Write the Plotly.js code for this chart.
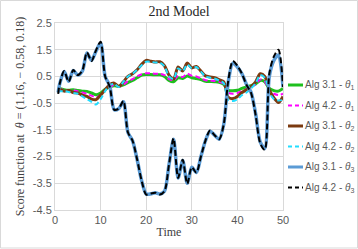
<!DOCTYPE html>
<html><head><meta charset="utf-8">
<script src="https://cdn.plot.ly/plotly-3.0.1.min.js"></script>
<style>html,body{margin:0;padding:0;background:#fff}#chart{width:358px;height:249px}</style>
</head><body><div id="chart"></div>
<script>
const time = [0.7,1,2,3,4,5,6,7,8,9,10,11,12,13,14,15,16,17,18,19,20,21,22,23,24,25,26,27,28,29,30,31,32,33,34,35,36,37,38,39,40,41,42,43,44,45,46,47,48,49,50];

const alg31_theta1 = [0.07,0.05,0.0,-0.02,0.0,-0.03,-0.05,-0.06,-0.12,-0.19,-0.12,0.02,0.1,0.15,0.13,0.18,0.27,0.35,0.45,0.55,0.57,0.57,0.56,0.56,0.5,0.35,0.3,0.45,0.42,0.52,0.45,0.42,0.38,0.32,0.31,0.3,0.28,0.2,-0.02,-0.04,-0.02,0.05,0.1,0.15,0.22,0.35,0.3,0.05,-0.03,-0.05,0.05];
const alg42_theta1 = [0.0,0.02,0.0,-0.05,-0.02,-0.06,-0.1,-0.15,-0.22,-0.28,-0.2,0.0,0.1,0.18,0.12,0.2,0.32,0.4,0.5,0.58,0.62,0.62,0.6,0.6,0.55,0.4,0.35,0.52,0.48,0.6,0.52,0.5,0.42,0.36,0.34,0.33,0.3,0.22,-0.1,-0.15,-0.12,-0.05,0.02,0.12,0.2,0.38,0.32,-0.05,-0.15,-0.2,-0.15];
const alg31_theta2 = [0.0,0.02,-0.05,-0.03,-0.1,-0.12,-0.2,-0.25,-0.35,-0.37,-0.2,0.0,0.2,0.25,0.12,0.3,0.5,0.6,0.75,0.95,1.1,1.07,1.04,1.05,0.9,0.55,0.4,0.85,0.7,1.0,0.82,0.87,0.7,0.52,0.48,0.45,0.38,0.3,-0.28,-0.33,-0.25,-0.1,0.0,0.12,0.3,0.6,0.5,0.0,-0.3,-0.48,-0.25];
const alg42_theta2 = [0.0,-0.05,-0.05,-0.08,-0.12,-0.15,-0.25,-0.35,-0.45,-0.55,-0.35,-0.05,0.18,0.22,0.1,0.3,0.5,0.6,0.75,0.92,1.05,1.05,1.02,1.02,0.88,0.5,0.4,0.8,0.7,0.95,0.8,0.85,0.68,0.5,0.45,0.42,0.35,0.25,-0.38,-0.42,-0.35,-0.2,-0.1,0.05,0.25,0.55,0.45,-0.1,-0.35,-0.4,-0.38];
const alg31_theta3 = [-0.1,0.2,0.68,0.32,0.72,0.55,0.7,1.38,1.1,1.45,1.75,0.5,0.15,-0.75,-0.7,-0.45,-1.6,-1.9,-2.6,-3.4,-3.9,-3.9,-3.85,-3.9,-3.8,-2.8,-1.85,-3.3,-2.65,-3.5,-2.9,-3.1,-2.5,-1.9,-1.55,-1.7,-1.85,-1.3,0.3,1.0,0.85,0.6,0.2,-0.1,-0.9,-1.95,-2.2,0.5,1.1,1.3,0.1];
const alg42_theta3 = [-0.15,0.2,0.7,0.3,0.74,0.55,0.72,1.4,1.08,1.48,1.8,0.5,0.12,-0.75,-0.7,-0.42,-1.6,-1.9,-2.6,-3.4,-3.92,-3.88,-3.85,-3.92,-3.8,-2.8,-1.82,-3.3,-2.62,-3.52,-2.9,-3.1,-2.5,-1.9,-1.52,-1.7,-1.85,-1.3,0.35,1.08,0.9,0.6,0.18,-0.12,-0.95,-2.0,-2.25,0.6,1.25,1.5,0.1];

const seriesNames = ['Alg 3.1 - <i>θ</i><sub>1</sub>','Alg 4.2 - <i>θ</i><sub>1</sub>','Alg 3.1 - <i>θ</i><sub>2</sub>','Alg 4.2 - <i>θ</i><sub>2</sub>','Alg 3.1 - <i>θ</i><sub>3</sub>','Alg 4.2 - <i>θ</i><sub>3</sub>'];
const seriesValues = [alg31_theta1, alg42_theta1, alg31_theta2, alg42_theta2, alg31_theta3, alg42_theta3];
const colors = ['#1ec01e','#ff00ff','#7b3a10','#22ddff','#5b9bd5','#000000'];
const widths = [3,2,3,2,3.5,2];
const dashes = ['solid','5px,3px','solid','5px,3px','solid','6px,3px'];

const yTicks = [2.5,1.5,0.5,-0.5,-1.5,-2.5,-3.5,-4.5];
const xTicks = [0,10,20,30,40,50];

const traces = seriesValues.map((v,i)=>({
  x: time, y: v, type:'scatter', mode:'lines', name: seriesNames[i],
  line:{color:colors[i], width:widths[i], dash:dashes[i], shape:'spline', smoothing:0.8},
  showlegend:false, hoverinfo:'skip'
}));

// legend drawn beside the plot (sample line + label per series)
const L = 55, W = 228, T = 23, H = 187;
const px2x = p => (p - L) / W;
const py2y = p => (T + H - p) / H;
const rowY = [85,105.5,126,146.5,167,187.5];
const shapes = [{type:'rect', xref:'paper', yref:'paper', x0:px2x(0.5), x1:px2x(357.5), y0:py2y(248), y1:py2y(0.5), line:{color:'#d9d9d9', width:1}}];
const annotations = [];
seriesNames.forEach((n,i)=>{
  shapes.push({type:'line', xref:'paper', yref:'paper', x0:px2x(288), x1:px2x(303), y0:py2y(rowY[i]), y1:py2y(rowY[i]),
    line:{color:colors[i], width: i%2===0 ? 3 : 2, dash: i%2===0 ? 'solid' : '4px,3px'}});
  annotations.push({xref:'paper', yref:'paper', x:px2x(303), y:py2y(rowY[i]), xanchor:'left', yanchor:'middle', showarrow:false,
    text:n, font:{family:'Liberation Sans, Arial, sans-serif', size:10, color:'#595959'}});
});

const layout = {
  width:358, height:249,
  margin:{l:55, r:75, t:23, b:39, pad:0},
  paper_bgcolor:'#ffffff', plot_bgcolor:'#ffffff',
  title:{text:'2nd Model', xref:'container', x:0.5, xanchor:'center', y:0.955, yanchor:'middle',
    font:{family:'Liberation Serif, DejaVu Serif, serif', size:14, color:'#262626'}},
  xaxis:{range:[0,50], tickvals:xTicks, ticktext:xTicks.map(String), showgrid:true, gridcolor:'#d9d9d9', gridwidth:1,
    zeroline:false, showline:true, linecolor:'#d9d9d9', mirror:true, ticks:'',
    tickfont:{family:'Liberation Sans, Arial, sans-serif', size:11, color:'#595959'},
    title:{text:'Time', standoff:2, font:{family:'Liberation Serif, DejaVu Serif, serif', size:12, color:'#404040'}}},
  yaxis:{range:[-4.5,2.5], tickvals:yTicks, ticktext:yTicks.map(String), showgrid:true, gridcolor:'#d9d9d9', gridwidth:1,
    zeroline:false, showline:true, linecolor:'#d9d9d9', mirror:true, ticks:'', ticklen:0,
    tickfont:{family:'Liberation Sans, Arial, sans-serif', size:11, color:'#595959'},
    title:{text:'Score function at  <i>θ</i> = (1.16, − 0.58, 0.18)', standoff:5, font:{family:'Liberation Serif, DejaVu Serif, serif', size:12, color:'#404040'}}},
  shapes: shapes, annotations: annotations, showlegend:false
};

Plotly.newPlot('chart', traces, layout, {staticPlot:true, displayModeBar:false});
</script></body></html>
